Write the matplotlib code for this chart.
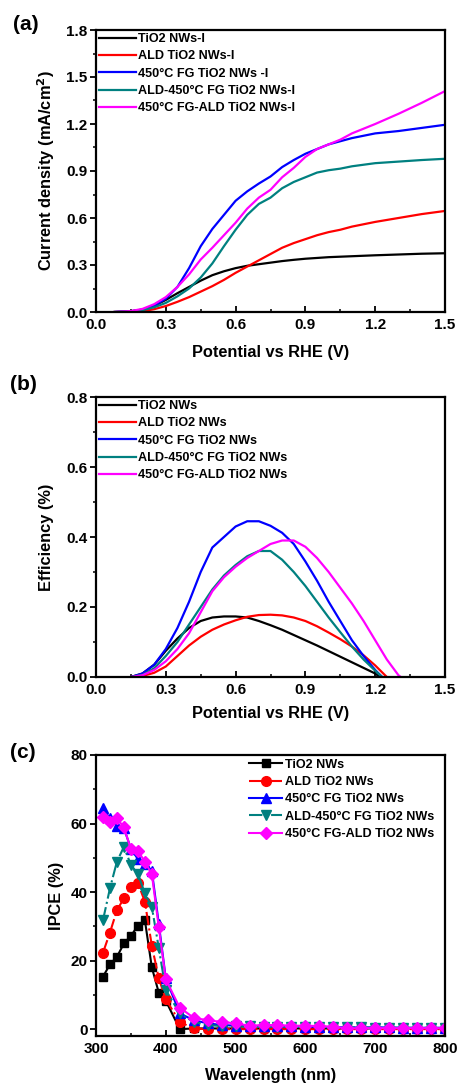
import matplotlib
matplotlib.use("Agg")
import matplotlib.pyplot as plt
from matplotlib.ticker import MultipleLocator

plt.rcParams['font.family'] = ['Liberation Sans', 'DejaVu Sans']
plt.rcParams['font.weight'] = 'bold'

# ---------------- Panel (a) data ----------------
a_labels = ["TiO2 NWs-I", "ALD TiO2 NWs-I", "450°C FG TiO2 NWs -I",
            "ALD-450°C FG TiO2 NWs-I", "450°C FG-ALD TiO2 NWs-I"]
a_x = [0.08, 0.15, 0.2, 0.25, 0.3, 0.35, 0.4, 0.45, 0.5, 0.55, 0.6, 0.65, 0.7,
       0.75, 0.8, 0.85, 0.9, 0.95, 1.0, 1.05, 1.1, 1.2, 1.3, 1.4, 1.5]
a_black = [0.0, 0.005, 0.015, 0.04, 0.077, 0.12, 0.16, 0.2, 0.235, 0.26, 0.28, 0.295, 0.305,
           0.315, 0.325, 0.333, 0.34, 0.345, 0.35, 0.353, 0.356, 0.362, 0.367, 0.372, 0.375]
a_red = [0.0, 0.0, 0.005, 0.018, 0.038, 0.065, 0.095, 0.13, 0.165, 0.205, 0.25, 0.29, 0.33,
         0.37, 0.41, 0.44, 0.465, 0.49, 0.51, 0.525, 0.545, 0.575, 0.6, 0.625, 0.645]
a_blue = [0.0, 0.005, 0.015, 0.04, 0.085, 0.16, 0.28, 0.42, 0.53, 0.62, 0.71, 0.77, 0.82,
          0.865, 0.925, 0.97, 1.01, 1.04, 1.07, 1.09, 1.11, 1.14, 1.155, 1.175, 1.195]
a_teal = [0.0, 0.004, 0.012, 0.03, 0.058, 0.1, 0.15, 0.22, 0.31, 0.42, 0.525, 0.62, 0.69,
          0.73, 0.79, 0.83, 0.86, 0.89, 0.905, 0.915, 0.93, 0.95, 0.96, 0.97, 0.978]
a_magenta = [0.0, 0.006, 0.02, 0.05, 0.095, 0.16, 0.24, 0.335, 0.41, 0.49, 0.57, 0.66, 0.73,
             0.78, 0.86, 0.92, 0.99, 1.04, 1.07, 1.1, 1.14, 1.2, 1.265, 1.335, 1.41]

# ---------------- Panel (b) data ----------------
b_labels = ["TiO2 NWs", "ALD TiO2 NWs", "450°C FG TiO2 NWs",
            "ALD-450°C FG TiO2 NWs", "450°C FG-ALD TiO2 NWs"]
b_x_black = [0.15, 0.2, 0.25, 0.3, 0.35, 0.4, 0.45, 0.5, 0.55, 0.6, 0.65, 0.7, 0.75, 0.8,
             0.85, 0.9, 0.95, 1.0, 1.05, 1.1, 1.15, 1.2, 1.22]
b_black = [0.0, 0.01, 0.035, 0.075, 0.11, 0.14, 0.16, 0.17, 0.173, 0.173, 0.17, 0.16, 0.148,
           0.135, 0.12, 0.105, 0.09, 0.074, 0.058, 0.042, 0.026, 0.01, 0.0]
b_x_red = [0.15, 0.2, 0.25, 0.3, 0.35, 0.4, 0.45, 0.5, 0.55, 0.6, 0.65, 0.7, 0.75, 0.8,
           0.85, 0.9, 0.95, 1.0, 1.05, 1.1, 1.15, 1.2, 1.25]
b_red = [0.0, 0.003, 0.012, 0.03, 0.06, 0.09, 0.115, 0.135, 0.15, 0.162, 0.172, 0.177, 0.178,
         0.176, 0.17, 0.16, 0.145, 0.127, 0.108, 0.087, 0.062, 0.033, 0.0]
b_x_blue = [0.15, 0.2, 0.25, 0.3, 0.35, 0.4, 0.45, 0.5, 0.55, 0.6, 0.65, 0.7, 0.75, 0.8,
            0.85, 0.9, 0.95, 1.0, 1.05, 1.1, 1.15, 1.2, 1.23]
b_blue = [0.0, 0.01, 0.035, 0.08, 0.14, 0.215, 0.3, 0.37, 0.4, 0.43, 0.445, 0.445, 0.432,
          0.412, 0.38, 0.33, 0.275, 0.215, 0.16, 0.105, 0.06, 0.02, 0.0]
b_x_teal = [0.15, 0.2, 0.25, 0.3, 0.35, 0.4, 0.45, 0.5, 0.55, 0.6, 0.65, 0.7, 0.75, 0.8,
            0.85, 0.9, 0.95, 1.0, 1.05, 1.1, 1.15, 1.2, 1.23]
b_teal = [0.0, 0.006, 0.025, 0.06, 0.1, 0.15, 0.2, 0.25, 0.29, 0.32, 0.345, 0.36, 0.36,
          0.335, 0.3, 0.26, 0.215, 0.17, 0.128, 0.087, 0.05, 0.018, 0.0]
b_x_magenta = [0.15, 0.2, 0.25, 0.3, 0.35, 0.4, 0.45, 0.5, 0.55, 0.6, 0.65, 0.7, 0.75, 0.8,
               0.85, 0.9, 0.95, 1.0, 1.05, 1.1, 1.15, 1.2, 1.25, 1.3, 1.31]
b_magenta = [0.0, 0.005, 0.02, 0.045, 0.08, 0.125, 0.185, 0.245, 0.285, 0.315, 0.34, 0.36,
             0.38, 0.39, 0.39, 0.372, 0.34, 0.3, 0.255, 0.21, 0.16, 0.105, 0.05, 0.005, 0.0]

# ---------------- Panel (c) data ----------------
c_labels = ["TiO2 NWs", "ALD TiO2 NWs", "450°C FG TiO2 NWs",
            "ALD-450°C FG TiO2 NWs", "450°C FG-ALD TiO2 NWs"]
c_wl = [310, 320, 330, 340, 350, 360, 370, 380, 390, 400, 420, 440, 460, 480, 500, 520,
        540, 560, 580, 600, 620, 640, 660, 680, 700, 720, 740, 760, 780, 800]
c_black = [15.3, 18.9, 21.1, 25.0, 27.2, 30.2, 31.8, 18.0, 10.6, 8.3, 0.0, 0.2, 0.2, 0.2,
           0.2, 0.2, 0.2, 0.2, 0.2, 0.2, 0.2, 0.2, 0.2, 0.2, 0.2, 0.2, 0.2, 0.2, 0.2, 0.2]
c_red = [22.3, 28.2, 34.7, 38.2, 41.4, 42.7, 37.2, 24.3, 14.8, 8.7, 2.1, 0.2, 0.0, 0.0,
         0.0, 0.0, 0.0, 0.0, 0.0, 0.0, 0.0, 0.0, 0.0, 0.0, 0.0, 0.0, 0.0, 0.0, 0.0, 0.0]
c_blue = [64.4, 61.5, 59.3, 58.6, 52.7, 49.6, 48.1, 46.2, 30.7, 14.8, 4.6, 2.6, 1.7, 1.2,
          1.0, 0.9, 0.9, 0.8, 0.8, 0.7, 0.7, 0.6, 0.5, 0.5, 0.5, 0.5, 0.4, 0.4, 0.4, 0.4]
c_teal = [31.8, 41.1, 48.9, 53.2, 47.9, 45.4, 39.6, 35.7, 23.6, 11.4, 4.6, 2.1, 1.2, 0.9,
          0.8, 0.8, 0.7, 0.7, 0.7, 0.6, 0.6, 0.5, 0.5, 0.5, 0.4, 0.4, 0.4, 0.4, 0.4, 0.3]
c_magenta = [62.0, 60.5, 61.5, 58.9, 52.5, 52.0, 48.9, 45.2, 29.7, 14.5, 6.3, 3.3, 2.6, 2.1,
             1.7, 1.0, 1.2, 1.2, 1.0, 1.0, 0.9, 0.7, 0.2, 0.3, 0.3, 0.3, 0.3, 0.3, 0.3, 0.3]

colors = ['#000000', '#FF0000', '#0000FF', '#008080', '#FF00FF']

fig = plt.figure(figsize=(4.58, 10.84), dpi=100)
L, W = 96 / 458, 349 / 458
ax_a = fig.add_axes([L, 1 - 312 / 1084, W, 282 / 1084])
ax_b = fig.add_axes([L, 1 - 677 / 1084, W, 280 / 1084])
ax_c = fig.add_axes([L, 1 - 1036 / 1084, W, 281 / 1084])

tick_fs = 11
label_fs = 11.8
leg_prop = {'weight': 'bold', 'size': 9.1}


def style(ax, xl_y, yl_x):
    for s in ax.spines.values():
        s.set_linewidth(1.6)
    ax.tick_params(axis='x', which='major', direction='in', length=4, width=1.3,
                   labelsize=tick_fs, pad=4, top=False)
    ax.tick_params(axis='x', which='minor', direction='in', length=2.5, width=1.1, top=False)
    ax.tick_params(axis='y', which='major', direction='out', length=4, width=1.3,
                   labelsize=tick_fs, pad=2, right=False)
    ax.tick_params(axis='y', which='minor', direction='out', length=2.5, width=1.1, right=False)
    for lab in ax.get_xticklabels() + ax.get_yticklabels():
        lab.set_fontweight('bold')
    ax.xaxis.set_label_coords(0.5, xl_y)
    ax.xaxis.label.set_verticalalignment('center')
    ax.yaxis.set_label_coords(yl_x, 0.5)
    ax.yaxis.label.set_verticalalignment('center')


# Panel (a)
for y, c, lab in zip([a_black, a_red, a_blue, a_teal, a_magenta], colors, a_labels):
    ax_a.plot(a_x, y, color=c, lw=1.6, label=lab)
ax_a.set_xlim(0, 1.5)
ax_a.set_ylim(0, 1.8)
ax_a.set_xticks([0, 0.3, 0.6, 0.9, 1.2, 1.5], ['0.0', '0.3', '0.6', '0.9', '1.2', '1.5'])
ax_a.set_yticks([0, 0.3, 0.6, 0.9, 1.2, 1.5, 1.8], ['0.0', '0.3', '0.6', '0.9', '1.2', '1.5', '1.8'])
ax_a.xaxis.set_minor_locator(MultipleLocator(0.15))
ax_a.yaxis.set_minor_locator(MultipleLocator(0.15))
ax_a.set_xlabel('Potential vs RHE (V)', fontsize=label_fs, fontweight='bold')
ax_a.set_ylabel('Current density (mA/cm$\\mathbf{^2}$)', fontsize=label_fs, fontweight='bold')
ax_a.legend(loc='upper left', bbox_to_anchor=(0, 1.0), frameon=False,
            handlelength=2.9, handletextpad=0.2, labelspacing=0.42, borderpad=0.25,
            borderaxespad=0.0, prop=leg_prop)
style(ax_a, -0.142, -0.143)

# Panel (b)
bx = [b_x_black, b_x_red, b_x_blue, b_x_teal, b_x_magenta]
by = [b_black, b_red, b_blue, b_teal, b_magenta]
for x, y, c, lab in zip(bx, by, colors, b_labels):
    ax_b.plot(x, y, color=c, lw=1.6, label=lab)
ax_b.set_xlim(0, 1.5)
ax_b.set_ylim(0, 0.8)
ax_b.set_xticks([0, 0.3, 0.6, 0.9, 1.2, 1.5], ['0.0', '0.3', '0.6', '0.9', '1.2', '1.5'])
ax_b.set_yticks([0, 0.2, 0.4, 0.6, 0.8], ['0.0', '0.2', '0.4', '0.6', '0.8'])
ax_b.xaxis.set_minor_locator(MultipleLocator(0.15))
ax_b.yaxis.set_minor_locator(MultipleLocator(0.1))
ax_b.set_xlabel('Potential vs RHE (V)', fontsize=label_fs, fontweight='bold')
ax_b.set_ylabel('Efficiency (%)', fontsize=label_fs, fontweight='bold')
ax_b.legend(loc='upper left', bbox_to_anchor=(0, 1.0), frameon=False,
            handlelength=2.9, handletextpad=0.2, labelspacing=0.42, borderpad=0.25,
            borderaxespad=0.0, prop=leg_prop)
style(ax_b, -0.132, -0.143)

# Panel (c)
c_series = [c_black, c_red, c_blue, c_teal, c_magenta]
markers = ['s', 'o', '^', 'v', 'D']
lstyles = ['-', '-.', '-', '-.', '-']
msizes = [6, 7, 7, 7, 6]
for y, c, m, ls, ms, lab in zip(c_series, colors, markers, lstyles, msizes, c_labels):
    ax_c.plot(c_wl, y, color=c, marker=m, ls=ls, lw=1.5, ms=ms, mec=c, label=lab)
ax_c.set_xlim(300, 800)
ax_c.set_ylim(-2, 80)
ax_c.set_xticks([300, 400, 500, 600, 700, 800])
ax_c.set_yticks([0, 20, 40, 60, 80])
ax_c.xaxis.set_minor_locator(MultipleLocator(50))
ax_c.yaxis.set_minor_locator(MultipleLocator(10))
ax_c.set_xlabel('Wavelength (nm)', fontsize=label_fs, fontweight='bold')
ax_c.set_ylabel('IPCE (%)', fontsize=label_fs, fontweight='bold')
ax_c.legend(loc='upper left', bbox_to_anchor=(0.428, 1.0), frameon=False,
            handlelength=2.6, handletextpad=0.2, labelspacing=0.42, borderpad=0.3,
            borderaxespad=0.0, prop=leg_prop)
style(ax_c, -0.142, -0.112)

fig.text(13 / 458, 1 - 25 / 1084, '(a)', fontsize=15, fontweight='bold', va='center', ha='left')
fig.text(10 / 458, 1 - 385 / 1084, '(b)', fontsize=15, fontweight='bold', va='center', ha='left')
fig.text(10 / 458, 1 - 752 / 1084, '(c)', fontsize=15, fontweight='bold', va='center', ha='left')

fig.savefig('out.png', dpi=100)
